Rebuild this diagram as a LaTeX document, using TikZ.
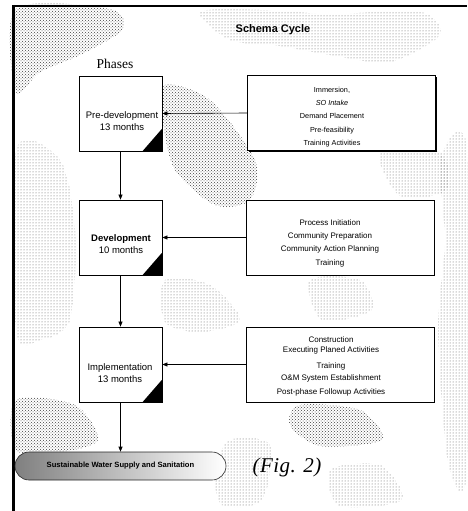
\documentclass[tikz,border=0pt]{standalone}
\usepackage{fontspec}
\setmainfont{Liberation Serif}
\setsansfont{Liberation Sans}
\usetikzlibrary{patterns,arrows.meta,shadows}

\tikzset{
  halftone/.style={pattern=crosshatch dots, pattern color=black!75},
  speckle/.style={pattern=dots, pattern color=black!65},
  phasebox/.style={draw=black, line width=0.7pt, fill=white, minimum width=83pt,
    minimum height=75pt, inner sep=0pt,
    drop shadow={shadow xshift=1pt, shadow yshift=-1pt, fill=black, opacity=1}},
  actbox/.style={draw=black, line width=0.7pt, fill=white, minimum width=188pt,
    minimum height=75pt, inner sep=0pt,
    drop shadow={shadow xshift=1.2pt, shadow yshift=-1.2pt, fill=black, opacity=1}},
  corner/.style={fill=black},
  phasetext/.style={font=\sffamily\fontsize{9.5}{12.5}\selectfont, align=center, inner sep=0pt},
  acttext/.style={font=\sffamily\fontsize{8}{13.3}\selectfont, align=center, inner sep=0pt},
  flow/.style={draw=black, line width=0.6pt, -{Triangle[length=5pt,width=4pt]}},
  goalbox/.style={draw=black!85, line width=0.6pt, rounded corners=14pt,
    minimum width=211pt, minimum height=28pt, inner sep=0pt,
    left color=black!50, right color=white, shading angle=90},
}

\begin{document}
\begin{tikzpicture}[x=1pt, y=-1pt]
\useasboundingbox (0,0) rectangle (467,511);

% mottled background texture
\fill[halftone] plot[smooth cycle] coordinates {(16,9) (110,9) (122,30) (80,55) (40,72) (16,92)};
\fill[speckle] plot[smooth cycle] coordinates {(200,12) (260,10) (330,14) (420,12) (440,35) (390,62) (330,55) (280,46) (230,40)};
\fill[halftone] plot[smooth cycle] coordinates {(165,85) (210,100) (255,160) (250,200) (215,205) (175,170) (163,120)};
\fill[speckle] plot[smooth cycle] coordinates {(16,150) (60,160) (75,230) (70,320) (40,340) (16,330)};
\fill[speckle] plot[smooth cycle] coordinates {(165,280) (210,285) (240,320) (200,332) (165,322)};
\fill[halftone] plot[smooth cycle] coordinates {(16,400) (75,405) (98,440) (60,452) (16,450)};
\fill[speckle] plot[smooth cycle] coordinates {(440,160) (467,150) (467,470) (448,462) (438,330) (445,240)};
\fill[halftone] plot[smooth cycle] coordinates {(300,405) (360,410) (382,440) (320,446) (290,425)};
\fill[speckle] plot[smooth cycle] coordinates {(230,440) (270,445) (262,500) (222,505) (215,470)};
\fill[speckle] plot[smooth cycle] coordinates {(330,470) (380,465) (402,500) (340,506)};
\fill[speckle] plot[smooth cycle] coordinates {(310,280) (360,280) (372,310) (322,320)};
\fill[speckle] plot[smooth cycle] coordinates {(380,152) (440,152) (446,190) (400,196)};

% frame
\draw[line width=2pt] (12,6) -- (467,6);
\draw[line width=3.5pt] (13.5,5) -- (13.5,511);

% headings
\node[font=\sffamily\bfseries\fontsize{11}{13}\selectfont] (title) at (273,30) {Schema Cycle};
\node[font=\fontsize{13.5}{15}\selectfont] (phases) at (115,64) {Phases};

% phase boxes
\node[phasebox] (p1) at (120.5,113.5) {};
\node[phasebox] (p2) at (120.5,237.5) {};
\node[phasebox] (p3) at (120.5,364.5) {};
\fill[corner] (p1.south east) -- ++(-20,0) -- ++(20,-23) -- cycle;
\fill[corner] (p2.south east) -- ++(-20,0) -- ++(20,-23) -- cycle;
\fill[corner] (p3.south east) -- ++(-20,0) -- ++(20,-23) -- cycle;
\node[phasetext] (t1) at (122,121) {Pre-development\\13 months};
\node[phasetext] (t2) at (121,244) {\bfseries Development\\10 months};
\node[phasetext] (t3) at (120,373) {Implementation\\13 months};

% activity boxes
\node[actbox] (r1) at (341.5,113) {};
\node[actbox] (r2) at (340,237.5) {};
\node[actbox] (r3) at (340,364.5) {};
\node[acttext, font=\sffamily\fontsize{7.3}{13.2}\selectfont] (a1) at (332,117)
  {Immersion,\\\itshape SO Intake\\Demand Placement\\Pre-feasibility\\Training Activities};
\node[acttext] (a2) at (330,243)
  {Process Initiation\\Community Preparation\\Community Action Planning\\Training};
\node[acttext, font=\sffamily\fontsize{8}{12.5}\selectfont] (a3) at (331,366)
  {Construction\\[-2.5pt]Executing Planed Activities\\[3.5pt]Training\\[-0.5pt]O\&M System Establishment\\[1.5pt]Post-phase Followup Activities};

% outcome
\node[goalbox] (goal) at (120.5,466)
  {\sffamily\bfseries\fontsize{7.6}{9}\selectfont Sustainable Water Supply and Sanitation};
\node[font=\itshape\fontsize{21}{23}\selectfont\addfontfeatures{LetterSpace=2}] (fig) at (287,467) {(Fig. 2)};

% connectors
\draw[flow] (r1.west) -- (p1.east);
\draw[flow] (r2.west) -- (p2.east);
\draw[flow] (r3.west) -- (p3.east);
\draw[flow] (p1.south) -- (p2.north);
\draw[flow] (p2.south) -- (p3.north);
\draw[flow] (p3.south) -- (goal.north);
\end{tikzpicture}
\end{document}
